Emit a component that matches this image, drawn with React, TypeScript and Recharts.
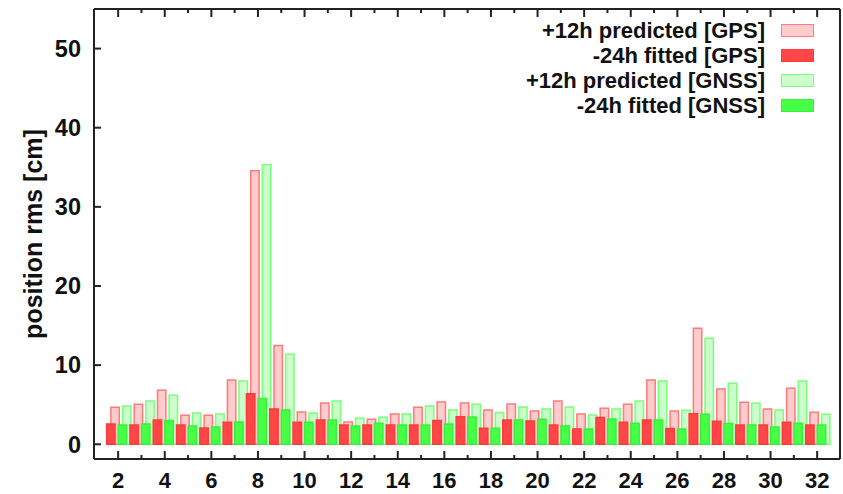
import { Bar, BarChart, Legend, XAxis, YAxis } from "recharts";

// satellite numbers (PRN) on the x axis
const prns = [
  2, 3, 4, 5, 6, 7, 8, 9, 10, 11, 12, 13, 14, 15, 16, 17, 18, 19, 20, 21, 22,
  23, 24, 25, 26, 27, 28, 29, 30, 31, 32,
];

// position rms [cm]
const predictedGps = [
  4.68, 5.06, 6.83, 3.67, 3.67, 8.13, 34.57, 12.47, 4.09, 5.22, 2.82, 3.16,
  3.83, 4.68, 5.35, 5.22, 4.34, 5.1, 4.21, 5.48, 3.83, 4.55, 5.06, 8.13, 4.21,
  14.67, 7.0, 5.31, 4.47, 7.08, 4.05,
];
const fittedGps = [
  2.57, 2.44, 3.07, 2.44, 2.06, 2.78, 6.4, 4.47, 2.78, 3.07, 2.44, 2.44, 2.44,
  2.44, 2.99, 3.49, 2.02, 3.07, 2.95, 2.44, 1.94, 3.37, 2.78, 3.07, 1.98, 3.87,
  2.9, 2.44, 2.44, 2.78, 2.44,
];
const predictedGnss = [
  4.84, 5.48, 6.2, 3.96, 3.83, 8.0, 35.33, 11.38, 3.96, 5.48, 3.29, 3.41, 3.83,
  4.84, 4.34, 5.06, 4.0, 4.72, 4.47, 4.72, 3.71, 4.47, 5.48, 8.0, 4.3, 13.4,
  7.71, 5.18, 4.34, 8.0, 3.79,
];
const fittedGnss = [
  2.44, 2.57, 2.99, 2.31, 2.19, 2.82, 5.8, 4.34, 2.78, 3.07, 2.31, 2.65, 2.44,
  2.44, 2.57, 3.45, 2.02, 3.07, 3.16, 2.31, 1.94, 3.2, 2.65, 3.07, 1.94, 3.79,
  2.61, 2.44, 2.19, 2.65, 2.44,
];

const yTicks = [0, 10, 20, 30, 40, 50];

const series = [
  { key: "predGps", name: "+12h predicted [GPS]", fill: "#ffcccc", stroke: "#ff7a7a" },
  { key: "fitGps", name: "-24h fitted [GPS]", fill: "#ff4747", stroke: "#ff3a3a" },
  { key: "predGnss", name: "+12h predicted [GNSS]", fill: "#ccffcc", stroke: "#7aff7a" },
  { key: "fitGnss", name: "-24h fitted [GNSS]", fill: "#47ff47", stroke: "#3af03a" },
];

const data = prns.map((prn, i) => ({
  prn,
  predGps: predictedGps[i],
  fitGps: fittedGps[i],
  predGnss: predictedGnss[i],
  fitGnss: fittedGnss[i],
}));

const FONT = "'Liberation Sans', Arial, sans-serif";
const axisColor = "#222";
const textColor = "#111";
const tickFont = { fontFamily: FONT, fontSize: 23.5, fontWeight: 700, fill: textColor };
const LABEL_GAP = 14;

// bottom ticks point inward, long on even numbers (labelled), short on odd
const BottomTick = ({ x, y, payload }: any) => {
  const major = payload.value % 2 === 0;
  const axisY = y - LABEL_GAP;
  return (
    <g>
      <line
        x1={x}
        x2={x}
        y1={axisY}
        y2={axisY - (major ? 8 : 4)}
        stroke={axisColor}
        strokeWidth={2}
      />
      {major && (
        <text
          x={x}
          y={y + 15}
          textAnchor="middle"
          fontFamily={FONT}
          fontSize={22}
          fontWeight={700}
          fill={textColor}
        >
          {payload.value}
        </text>
      )}
    </g>
  );
};

// mirrored ticks on the top border
const TopTick = ({ x, y, payload }: any) => {
  const major = payload.value % 2 === 0;
  return (
    <line
      x1={x}
      x2={x}
      y1={y}
      y2={y + (major ? 8 : 4)}
      stroke={axisColor}
      strokeWidth={2}
    />
  );
};

// legend drawn gnuplot style: text right aligned, colour box on the right
const LegendBox = () => (
  <div style={{ fontFamily: FONT, fontWeight: 700, fontSize: 22, color: textColor }}>
    {series.map((s) => (
      <div
        key={s.key}
        style={{
          display: "flex",
          alignItems: "center",
          justifyContent: "flex-end",
          height: 25,
        }}
      >
        <span>{s.name}</span>
        <span
          style={{
            display: "inline-block",
            width: 31,
            height: 11,
            marginLeft: 16,
            background: s.fill,
            border: `1px solid ${s.stroke}`,
          }}
        />
      </div>
    ))}
  </div>
);

const App = () => {
  const barSize = 8.4;
  return (
    <div style={{ position: "absolute", left: 0, top: 0 }}>
      <BarChart
        width={843}
        height={494}
        data={data}
        margin={{ top: 8, right: 2, bottom: 0, left: 0 }}
        barGap={3.2}
      >
        {/* hidden axes only used to place the two overlapping bar pairs */}
        <XAxis
          xAxisId="pred"
          dataKey="prn"
          hide
          height={0}
          padding={{ left: 14.9, right: 8.8 }}
        />
        <XAxis
          xAxisId="fit"
          dataKey="prn"
          hide
          height={0}
          padding={{ left: 10.65, right: 13.05 }}
        />
        <XAxis
          xAxisId="main"
          dataKey="prn"
          height={35}
          padding={{ left: 12.5, right: 11.2 }}
          interval={0}
          tickSize={0}
          tickMargin={LABEL_GAP}
          tickLine={false}
          tick={<BottomTick />}
          axisLine={{ stroke: axisColor, strokeWidth: 2 }}
        />
        <XAxis
          xAxisId="top"
          orientation="top"
          dataKey="prn"
          height={1}
          padding={{ left: 12.5, right: 11.2 }}
          interval={0}
          tickSize={0}
          tickMargin={0}
          tickLine={false}
          tick={<TopTick />}
          axisLine={{ stroke: axisColor, strokeWidth: 2 }}
        />
        <YAxis
          width={94}
          type="number"
          domain={[-1.86, 55]}
          allowDataOverflow
          ticks={yTicks}
          interval={0}
          tickSize={-7}
          tickMargin={20}
          tick={tickFont}
          axisLine={{ stroke: axisColor, strokeWidth: 2 }}
          tickLine={{ stroke: axisColor, strokeWidth: 2 }}
          label={{
            value: "position rms [cm]",
            angle: -90,
            position: "center",
            dx: -14,
            style: { fontFamily: FONT, fontSize: 25, fontWeight: 700, fill: textColor },
          }}
        />
        <YAxis
          yAxisId="right"
          orientation="right"
          width={1}
          type="number"
          domain={[-1.86, 55]}
          allowDataOverflow
          ticks={yTicks}
          interval={0}
          tick={false}
          tickSize={-7}
          axisLine={{ stroke: axisColor, strokeWidth: 2 }}
          tickLine={{ stroke: axisColor, strokeWidth: 2 }}
        />
        <Legend
          layout="vertical"
          align="center"
          verticalAlign="middle"
          content={<LegendBox />}
          wrapperStyle={{ top: 18, right: 29, left: "auto", width: "auto" }}
        />
        <Bar
          xAxisId="pred"
          dataKey="predGps"
          name={series[0].name}
          fill={series[0].fill}
          stroke={series[0].stroke}
          strokeWidth={1.5}
          barSize={barSize}
          isAnimationActive={false}
        />
        <Bar
          xAxisId="pred"
          dataKey="predGnss"
          name={series[2].name}
          fill={series[2].fill}
          stroke={series[2].stroke}
          strokeWidth={1.5}
          barSize={barSize}
          isAnimationActive={false}
        />
        <Bar
          xAxisId="fit"
          dataKey="fitGps"
          name={series[1].name}
          fill={series[1].fill}
          stroke={series[1].stroke}
          strokeWidth={1.5}
          barSize={barSize}
          isAnimationActive={false}
        />
        <Bar
          xAxisId="fit"
          dataKey="fitGnss"
          name={series[3].name}
          fill={series[3].fill}
          stroke={series[3].stroke}
          strokeWidth={1.5}
          barSize={barSize}
          isAnimationActive={false}
        />
      </BarChart>
    </div>
  );
};

export default App;
